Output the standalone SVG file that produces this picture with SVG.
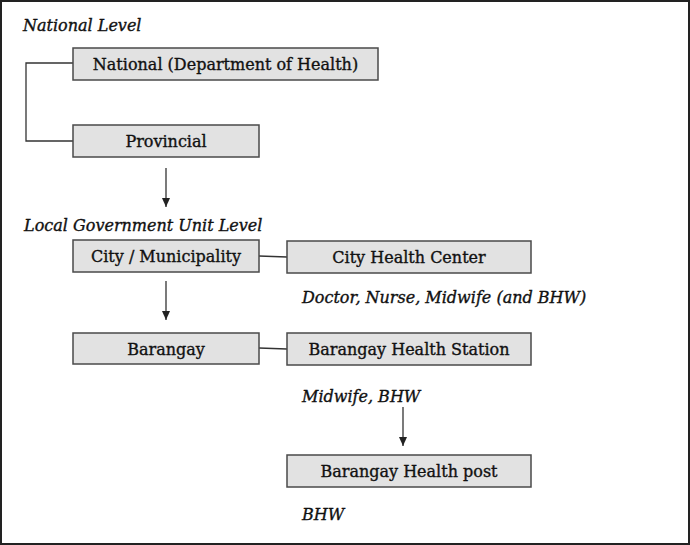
<svg xmlns="http://www.w3.org/2000/svg" width="690" height="545" viewBox="0 0 690 545">
<style>
.box{fill:#e2e2e2;stroke:#4a4a4a;stroke-width:1.5}
.t{font-family:"DejaVu Serif","Liberation Serif",serif;font-size:16px;fill:#111;stroke:#111;stroke-width:0.35;text-anchor:middle}
.it{font-family:"DejaVu Serif","Liberation Serif",serif;font-size:16px;font-style:italic;fill:#111;stroke:#111;stroke-width:0.35}
.ln{stroke:#333;stroke-width:1.3;fill:none}
</style>
<defs>
<marker id="ah" markerWidth="10" markerHeight="10" refX="9" refY="5" orient="auto" markerUnits="userSpaceOnUse">
<path d="M0,1 L9,5 L0,9 Z" fill="#222"/>
</marker>
</defs>
<rect x="1" y="1" width="688" height="543" fill="#fff" stroke="#222" stroke-width="2"/>
<text class="it" x="23" y="31">National Level</text>
<text class="it" x="24" y="231">Local Government Unit Level</text>
<g id="connectors">
<path class="ln" d="M73,63 H26 V141 H73"/>
<line class="ln" x1="166" y1="168" x2="166" y2="207" marker-end="url(#ah)"/>
<line class="ln" x1="259" y1="256" x2="287" y2="257"/>
<line class="ln" x1="166" y1="281" x2="166" y2="320" marker-end="url(#ah)"/>
<line class="ln" x1="259" y1="348" x2="287" y2="349"/>
<line class="ln" x1="403" y1="407" x2="403" y2="446" marker-end="url(#ah)"/>
</g>
<g id="national">
<rect class="box" x="73" y="48" width="305" height="32"/>
<text class="t" x="225.5" y="70">National (Department of Health)</text>
</g>
<g id="provincial">
<rect class="box" x="73" y="125" width="186" height="32"/>
<text class="t" x="166" y="147">Provincial</text>
</g>
<g id="city">
<rect class="box" x="73" y="240" width="186" height="32"/>
<text class="t" x="166" y="262">City / Municipality</text>
</g>
<g id="cityhealth">
<rect class="box" x="287" y="241" width="244" height="32"/>
<text class="t" x="409" y="263">City Health Center</text>
<text class="it" x="302" y="303">Doctor, Nurse, Midwife (and BHW)</text>
</g>
<g id="barangay">
<rect class="box" x="73" y="333" width="186" height="31"/>
<text class="t" x="166" y="355">Barangay</text>
</g>
<g id="bhs">
<rect class="box" x="287" y="333" width="244" height="32"/>
<text class="t" x="409" y="355">Barangay Health Station</text>
<text class="it" x="302" y="402">Midwife, BHW</text>
</g>
<g id="bhp">
<rect class="box" x="287" y="455" width="244" height="32"/>
<text class="t" x="409" y="477">Barangay Health post</text>
<text class="it" x="302" y="520">BHW</text>
</g>
</svg>
